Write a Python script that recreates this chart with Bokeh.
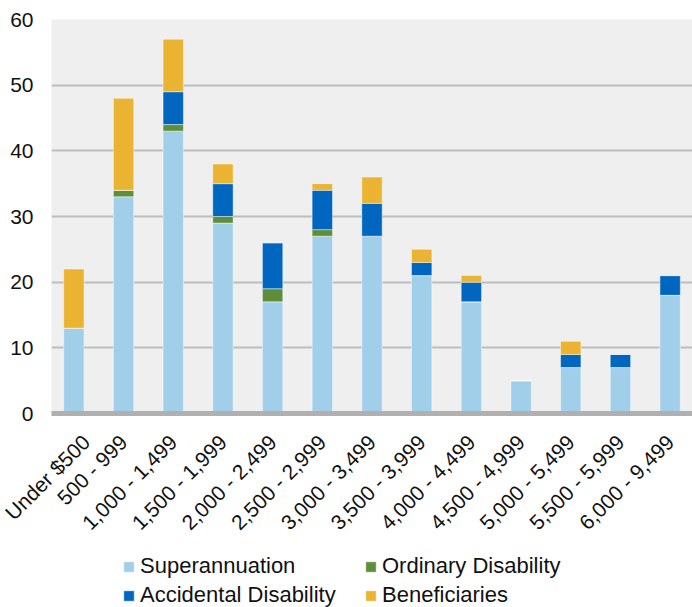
from bokeh.plotting import figure
from bokeh.models import Range1d, FixedTicker, Legend, LegendItem, FactorRange
from bokeh.layouts import column
from bokeh.embed import file_html
from bokeh.resources import INLINE
import math

categories = ["Under $500", "500 - 999", "1,000 - 1,499", "1,500 - 1,999", "2,000 - 2,499",
              "2,500 - 2,999", "3,000 - 3,499", "3,500 - 3,999", "4,000 - 4,499",
              "4,500 - 4,999", "5,000 - 5,499", "5,500 - 5,999", "6,000 - 9,499"]
superannuation = [13, 33, 43, 29, 17, 27, 27, 21, 17, 5, 7, 7, 18]
ordinary_disability = [0, 1, 1, 1, 2, 1, 0, 0, 0, 0, 0, 0, 0]
accidental_disability = [0, 0, 5, 5, 7, 6, 5, 2, 3, 0, 2, 2, 3]
beneficiaries = [9, 14, 8, 3, 0, 1, 4, 2, 1, 0, 2, 0, 0]
y_ticks = [0, 10, 20, 30, 40, 50, 60]

series = ["Superannuation", "Ordinary Disability", "Accidental Disability", "Beneficiaries"]
colors = ["#A1CFEA", "#5E8E3A", "#0066BF", "#EAB331"]

data = {"cat": categories,
        "Superannuation": superannuation,
        "Ordinary Disability": ordinary_disability,
        "Accidental Disability": accidental_disability,
        "Beneficiaries": beneficiaries}

FONT = "Liberation Sans"

p = figure(x_range=FactorRange(*categories, range_padding=-0.05, range_padding_units="absolute"),
           y_range=Range1d(0, 60),
           frame_width=641, frame_height=394,
           output_backend="svg", toolbar_location=None,
           min_border_left=51, min_border_right=0, min_border_top=19,
           min_border_bottom=0)

renderers = p.vbar_stack(series, x="cat", width=0.41, color=colors, source=data,
                         line_color="white", line_alpha=0.45, line_width=1)

p.background_fill_color = "#EFEFEF"
p.border_fill_color = "white"
p.outline_line_color = None

p.xgrid.grid_line_color = None
p.ygrid.grid_line_color = "#BDBDBD"
p.ygrid.grid_line_width = 2

p.yaxis.ticker = FixedTicker(ticks=y_ticks)
p.yaxis.axis_line_color = None
p.yaxis.major_tick_line_color = None
p.yaxis.minor_tick_line_color = None
p.yaxis.major_tick_out = 0
p.yaxis.major_tick_in = 0
p.yaxis.minor_tick_out = 0
p.yaxis.major_label_text_font = FONT
p.yaxis.major_label_text_font_size = "21px"
p.yaxis.major_label_text_color = "#111111"
p.yaxis.major_label_standoff = 18

p.xaxis.axis_line_color = "#B0B0B0"
p.xaxis.axis_line_width = 5
p.xaxis.major_tick_line_color = None
p.xaxis.minor_tick_line_color = None
p.xaxis.major_tick_out = 0
p.xaxis.major_tick_in = 0
p.xaxis.major_label_orientation = math.pi / 4
p.xaxis.major_label_text_font = FONT
p.xaxis.major_label_text_font_size = "21px"
p.xaxis.major_label_text_color = "#111111"
p.xaxis.major_label_standoff = 25

# legend-only figure below the chart (hidden copies of the bar renderers)
lg = figure(x_range=categories, y_range=Range1d(0, 60), width=692, height=63,
            output_backend="svg", toolbar_location=None, min_border=0,
            x_axis_location=None, y_axis_location=None)
lg_renderers = lg.vbar_stack(series, x="cat", width=0.41, color=colors, source=data,
                             line_color="white", line_alpha=0.45, line_width=1)
for r in lg_renderers:
    r.visible = False
lg.grid.visible = False
lg.outline_line_color = None
lg.background_fill_color = "white"
lg.border_fill_color = "white"

order = [0, 2, 1, 3]
legend = Legend(items=[LegendItem(label=series[i], renderers=[lg_renderers[i]]) for i in order],
                orientation="vertical", nrows=2, location=(71, 0),
                label_text_font=FONT, label_text_font_size="22px", label_text_color="#111111",
                glyph_width=13, glyph_height=13, label_height=23, spacing=3,
                label_standoff=5, label_width=221, padding=0, margin=0,
                inactive_fill_alpha=0,
                border_line_color=None, background_fill_alpha=0)
lg.add_layout(legend, "center")

layout = column(p, lg, spacing=0)
open("out.html", "w").write(file_html(layout, INLINE))
